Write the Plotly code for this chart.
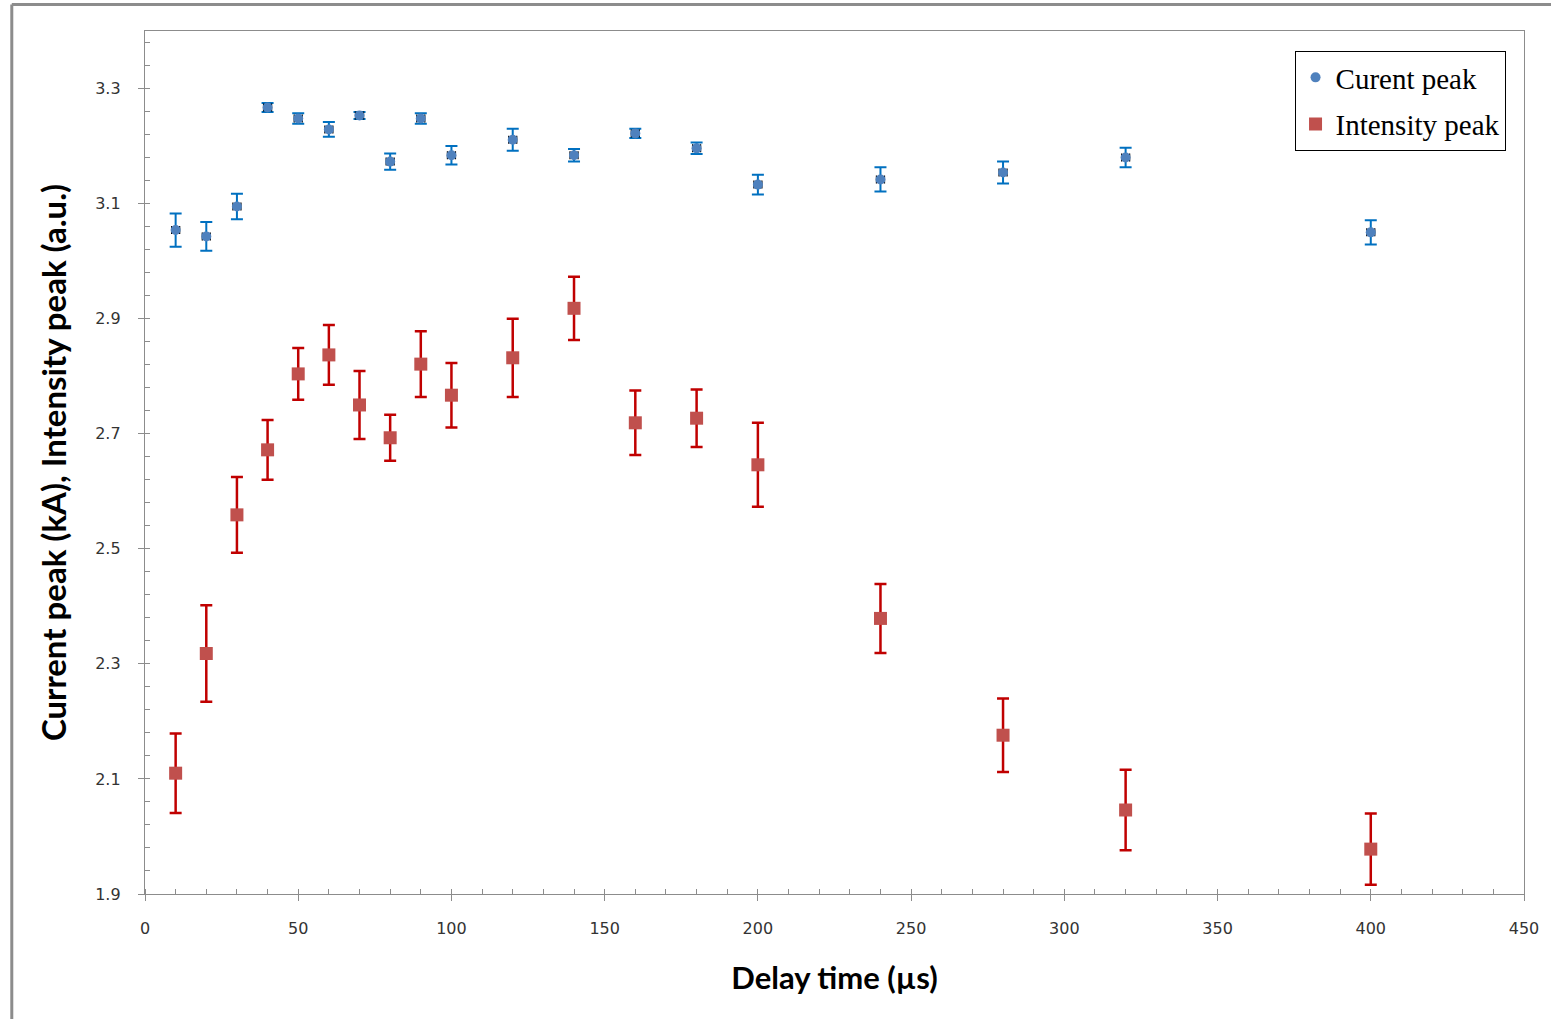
import plotly.graph_objects as go

# Data
delay = [10, 20, 30, 40, 50, 60, 70, 80, 90, 100, 120, 140, 160, 180, 200, 240, 280, 320, 400]

current_peak = [3.054, 3.043, 3.095, 3.267, 3.248, 3.229, 3.253, 3.173, 3.248, 3.184,
                3.211, 3.184, 3.222, 3.196, 3.133, 3.142, 3.154, 3.180, 3.050]
current_err = [0.029, 0.025, 0.022, 0.008, 0.009, 0.013, 0.006, 0.014, 0.009, 0.016,
               0.019, 0.011, 0.008, 0.010, 0.017, 0.021, 0.019, 0.017, 0.021]
current_xerr = [1.3] * len(delay)

intensity_peak = [2.110, 2.318, 2.559, 2.672, 2.804, 2.837, 2.750, 2.693, 2.821, 2.767,
                  2.832, 2.918, 2.719, 2.727, 2.646, 2.379, 2.176, 2.046, 1.978]
intensity_err = [0.069, 0.084, 0.066, 0.052, 0.045, 0.052, 0.059, 0.040, 0.057, 0.056,
                 0.068, 0.055, 0.056, 0.050, 0.073, 0.060, 0.064, 0.070, 0.062]

y_ticks = [1.9, 2.1, 2.3, 2.5, 2.7, 2.9, 3.1, 3.3]
x_ticks = [0, 50, 100, 150, 200, 250, 300, 350, 400, 450]

fig = go.Figure()

fig.add_trace(go.Scatter(
    x=delay, y=current_peak, mode="markers", name="Curent peak", legendgroup="a",
    marker=dict(symbol="circle", size=10, color="#4F81BD"),
    error_y=dict(type="data", array=current_err, visible=True,
                 color="#0070C0", thickness=2, width=6),
    error_x=dict(type="data", array=current_xerr, visible=True,
                 color="#000000", thickness=1.3, width=4),
))

fig.add_trace(go.Scatter(
    x=delay, y=intensity_peak, mode="markers", name="Intensity peak", legendgroup="b",
    marker=dict(symbol="square", size=13, color="#C0504D"),
    error_y=dict(type="data", array=intensity_err, visible=True,
                 color="#C00000", thickness=2.5, width=6),
))

axis_line = "#8C8C8C"
tick_font = dict(family="DejaVu Sans, Verdana, sans-serif", size=16, color="#333333")

fig.update_layout(
    width=1551, height=1019,
    margin=dict(l=145, r=24, t=31, b=125),
    paper_bgcolor="white", plot_bgcolor="white",
    showlegend=True,
    legend=dict(
        x=0.8336, y=0.9768, xanchor="left", yanchor="top",
        bgcolor="white", bordercolor="#000000", borderwidth=1,
        font=dict(family="Liberation Serif, Times New Roman, serif", size=29, color="#000000"),
        itemsizing="trace", tracegroupgap=6,
    ),
    xaxis=dict(
        range=[0, 450], tickvals=x_ticks, ticktext=[str(v) for v in x_ticks],
        showgrid=False, zeroline=False,
        showline=True, linecolor=axis_line, linewidth=1.3, mirror=True,
        ticks="outside", ticklen=6, tickcolor=axis_line, tickwidth=1.3,
        minor=dict(dtick=10, tick0=0, ticks="inside", ticklen=5, tickcolor=axis_line, showgrid=False),
        tickfont=tick_font, ticklabelstandoff=14,
        title=dict(text="Delay time (µs)",
                   font=dict(family="Lato, Calibri, sans-serif", size=31, color="#000000", weight="bold"),
                   standoff=29),
    ),
    yaxis=dict(
        range=[1.9, 3.4], tickvals=y_ticks, ticktext=[f"{v:.1f}" for v in y_ticks],
        showgrid=False, zeroline=False,
        showline=True, linecolor=axis_line, linewidth=1.3, mirror=True,
        ticks="outside", ticklen=6, tickcolor=axis_line, tickwidth=1.3,
        minor=dict(dtick=0.04, tick0=1.9, ticks="inside", ticklen=5, tickcolor=axis_line, showgrid=False),
        tickfont=tick_font, ticklabelstandoff=14,
        title=dict(text="Current peak (kA), Intensity peak (a.u.)",
                   font=dict(family="Lato, Calibri, sans-serif", size=33, color="#000000", weight="bold"),
                   standoff=18),
    ),
)

# Outer chart frame (top and left edges visible in the reference)
fig.add_shape(type="line", xref="paper", yref="paper", x0=-0.0966, x1=1.1, y0=1.0307, y1=1.0307,
              line=dict(color="#8C8C8C", width=3))
fig.add_shape(type="line", xref="paper", yref="paper", x0=-0.0966, x1=-0.0966, y0=1.0307, y1=-0.2,
              line=dict(color="#8C8C8C", width=3))

fig.write_html("out.html")
